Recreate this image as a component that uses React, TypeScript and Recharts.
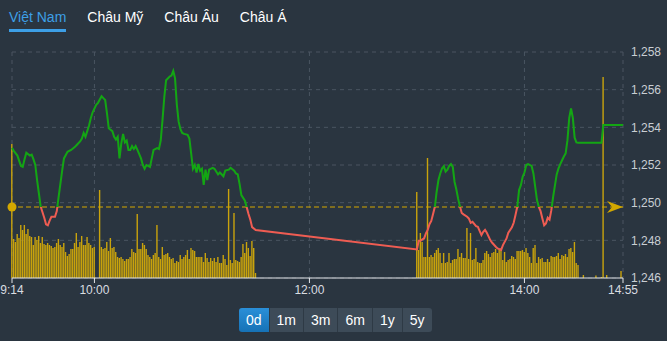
import React from 'react'
import {
  ComposedChart, Bar, Line, XAxis, YAxis, CartesianGrid,
  ReferenceLine, ReferenceDot,
} from 'recharts'

// minutes counted from 9:14
const xTicks = [0, 46, 166, 286, 341]
const xLabels = ['9:14', '10:00', '12:00', '14:00', '14:55']
const priceTicks = [1246, 1248, 1250, 1252, 1254, 1256, 1258]
const refPrice = 1249.77

const tabs = ['Việt Nam', 'Châu Mỹ', 'Châu Âu', 'Châu Á']
const ranges = ['0d', '1m', '3m', '6m', '1y', '5y']

// volume per minute, 9:14 .. 11:30
const morningVol = [
  134, 39, 36, 44, 40, 53, 48, 53, 44, 49, 42, 41, 33, 41, 38, 42, 35, 41, 34, 33,
  35, 33, 32, 30, 31, 35, 39, 33, 31, 35, 26, 22, 24, 29, 29, 35, 45, 31, 36, 42,
  33, 33, 41, 35, 33, 30, 31, 0, 0, 88, 31, 29, 30, 36, 27, 40, 30, 31, 26, 21,
  20, 21, 19, 17, 19, 19, 21, 29, 26, 25, 64, 29, 29, 35, 33, 29, 23, 21, 19, 23,
  25, 53, 21, 19, 31, 23, 24, 25, 21, 19, 20, 15, 17, 16, 23, 19, 21, 23, 28, 19,
  30, 28, 27, 21, 21, 21, 21, 16, 25, 20, 16, 20, 17, 20, 16, 21, 15, 15, 23, 19,
  13, 89, 18, 15, 65, 18, 17, 16, 21, 34, 25, 36, 30, 22, 37, 30, 5,
]
// volume per minute, 13:00 .. 14:30
const afternoonVol = [
  86, 28, 45, 36, 21, 21, 120, 21, 23, 21, 25, 28, 30, 25, 15, 25, 15, 16, 25, 15,
  18, 19, 19, 29, 21, 25, 20, 20, 50, 19, 45, 18, 19, 30, 16, 15, 15, 18, 25, 27,
  24, 21, 25, 26, 29, 25, 28, 28, 18, 26, 16, 18, 19, 22, 21, 19, 27, 27, 27, 28,
  26, 30, 25, 21, 15, 30, 33, 15, 21, 19, 20, 16, 16, 19, 16, 22, 21, 21, 22, 25,
  19, 23, 22, 24, 21, 29, 30, 26, 36, 15, 13,
]
const lateTimes = [319, 326, 329, 330, 332, 340]
const lateVol = [3, 2.5, 1, 201, 3, 7]

// [minute, index value]
const prices: [number, number][] = [
  [0, 1252.9], [1, 1252.75], [3, 1252.5], [5, 1251.95], [6, 1251.9], [7, 1252.3],
  [8, 1252.65], [10, 1252.5], [11, 1252.55], [12, 1252.3], [13, 1252.0], [14, 1251.2],
  [15, 1250.5], [16, 1249.8], [18, 1249.2], [19, 1248.85], [20, 1248.8], [21, 1249.05],
  [22, 1249.25], [24, 1249.25], [25, 1249.55], [26, 1250.3], [27, 1251.0], [28, 1251.7],
  [29, 1252.35], [31, 1252.7], [33, 1252.8], [35, 1252.95], [36, 1253.05], [38, 1253.25],
  [39, 1253.4], [40, 1253.7], [41, 1253.5], [42, 1253.8], [43, 1254.1], [44, 1254.5],
  [45, 1254.8], [47, 1255.2], [48, 1255.3], [50, 1255.65], [51, 1255.55], [52, 1255.45],
  [53, 1254.75], [54, 1253.95], [56, 1253.8], [57, 1253.5], [58, 1253.35], [59, 1253.5],
  [60, 1252.35], [61, 1253.15], [62, 1253.65], [63, 1253.2], [64, 1253.3], [65, 1252.8],
  [66, 1252.8], [67, 1253.0], [68, 1252.85], [69, 1253.0], [70, 1252.8], [72, 1252.35],
  [73, 1252.0], [74, 1251.8], [75, 1252.0], [76, 1251.95], [77, 1251.9], [78, 1252.35],
  [79, 1252.8], [81, 1252.9], [82, 1252.85], [83, 1253.3], [84, 1254.4], [85, 1255.6],
  [86, 1256.5], [88, 1256.7], [89, 1256.75], [90, 1257.0], [91, 1256.6], [92, 1255.2],
  [93, 1254.3], [94, 1253.9], [95, 1253.7], [96, 1253.65], [98, 1253.6], [99, 1253.4],
  [100, 1252.6], [101, 1251.8], [102, 1252.0], [103, 1251.6], [104, 1252.05], [105, 1251.7],
  [106, 1251.8], [107, 1250.95], [108, 1251.75], [109, 1251.2], [110, 1251.75], [112, 1251.85],
  [113, 1251.8], [115, 1251.5], [116, 1251.6], [118, 1251.4], [119, 1251.7], [121, 1251.75],
  [122, 1251.85], [124, 1251.7], [125, 1251.55], [126, 1251.5], [127, 1251.0], [128, 1250.4],
  [130, 1250.1], [131, 1249.75], [132, 1249.4], [133, 1249.1], [134, 1248.7], [136, 1248.55],
  [226, 1247.52], [227, 1247.98], [228, 1247.98], [229, 1248.05], [230, 1248.1], [231, 1248.37],
  [232, 1248.55], [233, 1248.86], [234, 1249.03], [235, 1249.4], [236, 1249.78], [237, 1250.58],
  [238, 1251.2], [239, 1251.55], [240, 1251.82], [241, 1251.94], [242, 1251.65], [243, 1251.75],
  [244, 1251.95], [245, 1252.05], [246, 1251.9], [247, 1251.1], [248, 1250.7], [249, 1250.2],
  [250, 1249.8], [251, 1249.45], [252, 1249.38], [254, 1249.25], [255, 1249.15], [256, 1248.93],
  [257, 1248.98], [259, 1248.75], [260, 1248.72], [262, 1248.28], [263, 1248.45], [264, 1248.55],
  [265, 1248.4], [267, 1248.0], [268, 1247.87], [270, 1247.66], [271, 1247.57], [273, 1247.49],
  [274, 1247.75], [276, 1248.1], [277, 1248.4], [279, 1248.69], [280, 1248.93], [281, 1249.34],
  [282, 1249.78], [283, 1250.67], [284, 1250.93], [285, 1251.37], [286, 1251.6], [287, 1252.0],
  [288, 1252.05], [290, 1251.95], [291, 1251.55], [292, 1250.84], [293, 1250.14], [294, 1249.78],
  [295, 1249.55], [296, 1249.16], [297, 1248.8], [298, 1248.9], [299, 1249.2], [300, 1249.1],
  [301, 1249.6], [302, 1250.3], [303, 1250.9], [304, 1251.5], [305, 1251.82], [306, 1252.05],
  [307, 1252.25], [308, 1252.45], [309, 1252.62], [310, 1253.32], [311, 1254.5], [312, 1255.0],
  [313, 1254.5], [314, 1253.45], [315, 1253.2], [316, 1253.18], [329, 1253.18], [330, 1254.12],
  [341, 1254.12],
]

const GREEN = '#13a613'
const RED = '#ef5c52'
const GOLD = '#d3a800'
const BG = '#2a3540'

type Row = { t: number; vol?: number; price?: number }

function buildRows(): Row[] {
  const m = new Map<number, Row>()
  const get = (t: number) => {
    if (!m.has(t)) m.set(t, { t })
    return m.get(t)!
  }
  morningVol.forEach((v, i) => { if (v > 0) get(i).vol = v })
  afternoonVol.forEach((v, i) => { get(226 + i).vol = v })
  lateTimes.forEach((t, i) => { get(t).vol = lateVol[i] })
  prices.forEach(([t, p]) => { get(t).price = p })
  return [...m.values()].sort((a, b) => a.t - b.t)
}

const rows = buildRows()
const pMax = Math.max(...prices.map(p => p[1]))
const pMin = Math.min(...prices.map(p => p[1]))
const splitAt = (pMax - refPrice) / (pMax - pMin)

const Arrow = (props: any) => {
  const { cx, cy } = props
  return (
    <polygon
      points={`${cx},${cy} ${cx - 16},${cy - 6} ${cx - 11},${cy} ${cx - 16},${cy + 6}`}
      fill={GOLD}
    />
  )
}

export default function App() {
  return (
    <div style={{
      position: 'absolute', left: 0, top: 0, width: 667, height: 341,
      background: BG, fontFamily: '"Liberation Sans", Arial, sans-serif', overflow: 'hidden',
    }}>
      <div style={{ position: 'absolute', left: 9, top: 8, display: 'flex' }}>
        {tabs.map((t, i) => (
          <div key={t} style={{
            marginRight: 21, fontSize: 14, lineHeight: '18px',
            color: i === 0 ? '#3d9fe6' : '#ffffff', position: 'relative',
          }}>
            {t}
            {i === 0 && (
              <div style={{ position: 'absolute', left: 0, right: 0, top: 21, height: 3, background: '#3d9fe6' }} />
            )}
          </div>
        ))}
      </div>

      <div style={{ position: 'absolute', left: 0, top: 40 }}>
        <ComposedChart width={667} height={270} data={rows}
          margin={{ top: 12, right: 0, left: 12, bottom: 2 }}>
          <defs>
            <linearGradient id="priceStroke" x1="0" y1="0" x2="0" y2="1">
              <stop offset={splitAt} stopColor={GREEN} />
              <stop offset={splitAt} stopColor={RED} />
            </linearGradient>
          </defs>
          <CartesianGrid yAxisId="price" stroke="#4a5561" strokeDasharray="4 4" />
          <XAxis dataKey="t" type="number" domain={[0, 341]} ticks={xTicks}
            tickFormatter={(v: number) => xLabels[xTicks.indexOf(v)]}
            stroke="#e3e6e9" tickSize={5}
            tick={{ fill: '#d9dde1', fontSize: 12 }} interval={0} />
          <YAxis yAxisId="vol" hide domain={[0, 226]} />
          <YAxis yAxisId="price" orientation="right" width={44} domain={[1246, 1258]}
            ticks={priceTicks} axisLine={false} tickLine={false}
            tickFormatter={(v: number) => v.toLocaleString('en-US')}
            tick={{ fill: '#c9ced3', fontSize: 12, textAnchor: 'start' }} />
          <Bar yAxisId="vol" dataKey="vol" fill="#c9a30c" barSize={1.4} isAnimationActive={false} />
          <ReferenceLine yAxisId="price" y={refPrice} stroke={GOLD} strokeDasharray="5 3" strokeWidth={1.2} />
          <Line yAxisId="price" dataKey="price" type="linear" stroke="url(#priceStroke)"
            strokeWidth={2} dot={false} connectNulls isAnimationActive={false} />
          <ReferenceDot yAxisId="price" x={0} y={refPrice} r={4.5} fill={GOLD} stroke="none" />
          <ReferenceDot yAxisId="price" x={341} y={refPrice} shape={Arrow} />
        </ComposedChart>
      </div>

      <div style={{
        position: 'absolute', left: 239, top: 308, height: 24, display: 'flex',
        borderRadius: 3, overflow: 'hidden',
      }}>
        {ranges.map((r, i) => (
          <div key={r} style={{
            padding: '0 7px', height: 24, lineHeight: '24px', fontSize: 14, color: '#fff',
            background: i === 0 ? 'linear-gradient(#2a8fd8, #1672b6)' : '#3d4b58',
            borderLeft: i === 0 ? 'none' : '1px solid #2e3a45',
          }}>{r}</div>
        ))}
      </div>
    </div>
  )
}
